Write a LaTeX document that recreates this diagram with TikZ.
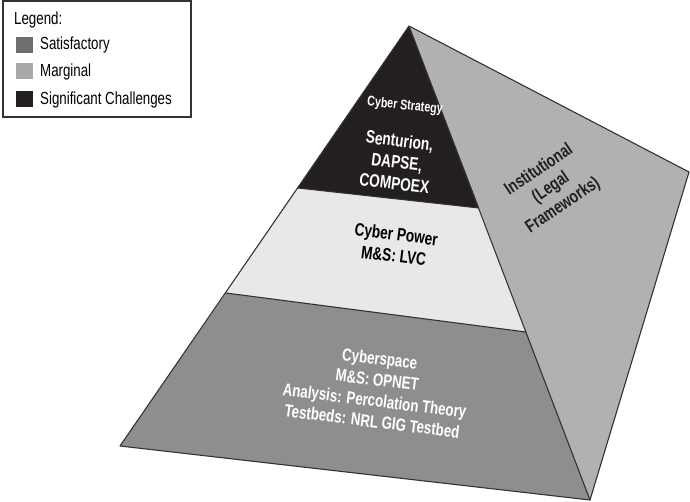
\documentclass[tikz,border=0pt]{standalone}
\usepackage{fontspec}
\setmainfont{Liberation Sans}
\newfontfamily\narrowfont[FakeStretch=0.76]{Liberation Sans}
\definecolor{satis}{HTML}{6E6E71}
\definecolor{margin}{HTML}{A8A9AB}
\definecolor{signif}{HTML}{231F20}
\definecolor{basegray}{HTML}{8F8E8F}
\definecolor{powergray}{HTML}{E8E8E8}
\definecolor{sidegray}{HTML}{B1B1B1}
\definecolor{edgegray}{HTML}{333333}
\tikzset{
  face/.style={draw=edgegray, line width=1.1pt, line join=round},
  tier/.style={font=\narrowfont\bfseries\fontsize{18}{21.5}\selectfont, align=center, rotate=-7, inner sep=0pt},
  swatch/.style={minimum width=17pt, minimum height=16pt, inner sep=0pt},
  legtext/.style={font=\narrowfont\fontsize{17.5}{20}\selectfont, anchor=base west, inner sep=0pt}
}
\begin{document}
\begin{tikzpicture}[x=1pt,y=-1pt]
\useasboundingbox (0,0) rectangle (690,501);
\coordinate (apex) at (409,26);
\coordinate (back) at (689,172);
\coordinate (bl) at (120,446);
\coordinate (br) at (590,500);
\coordinate (s1) at (298,188);
\coordinate (s2) at (479,208);
\coordinate (p1) at (226,293);
\coordinate (p2) at (526,332);
\fill[sidegray] (apex) -- (back) -- (br) -- cycle;
\fill[basegray] (p1) -- (p2) -- (br) -- (bl) -- cycle;
\fill[powergray] (s1) -- (s2) -- (p2) -- (p1) -- cycle;
\fill[signif] (apex) -- (s2) -- (s1) -- cycle;
\draw[face] (apex) -- (back) -- (br) -- (bl) -- cycle;
\draw[face] (apex) -- (br);
\draw[face] (s1) -- (s2);
\draw[face] (p1) -- (p2);
\node[tier, white, rotate=1, font=\narrowfont\bfseries\fontsize{14}{16}\selectfont] (strat) at (405,106) {Cyber Strategy};
\node[tier, white] (sent) at (397,162) {Senturion,\\DAPSE,\\COMPOEX};
\node[tier, black] (power) at (395,245) {Cyber Power\\M\&S: LVC};
\node[tier, white, font=\narrowfont\bfseries\fontsize{17.5}{21}\selectfont] (space) at (376,390) {Cyberspace\\M\&S: OPNET\\Analysis: Percolation Theory\\Testbeds: NRL GIG Testbed};
\node[tier, signif, rotate=41] (inst) at (551,188) {Institutional\\(Legal\\Frameworks)};
\draw[draw=edgegray, line width=1.2pt] (3,1) rectangle (191,117);
\node[legtext] (leg) at (14,24) {Legend:};
\node[swatch, fill=satis] (k1) at (24.5,44.7) {};
\node[swatch, fill=margin] (k2) at (24.5,71) {};
\node[swatch, fill=signif] (k3) at (24.5,98.7) {};
\node[legtext] (l1) at (40,49) {Satisfactory};
\node[legtext] (l2) at (40,76) {Marginal};
\node[legtext] (l3) at (40,104) {Significant Challenges};
\end{tikzpicture}
\end{document}
